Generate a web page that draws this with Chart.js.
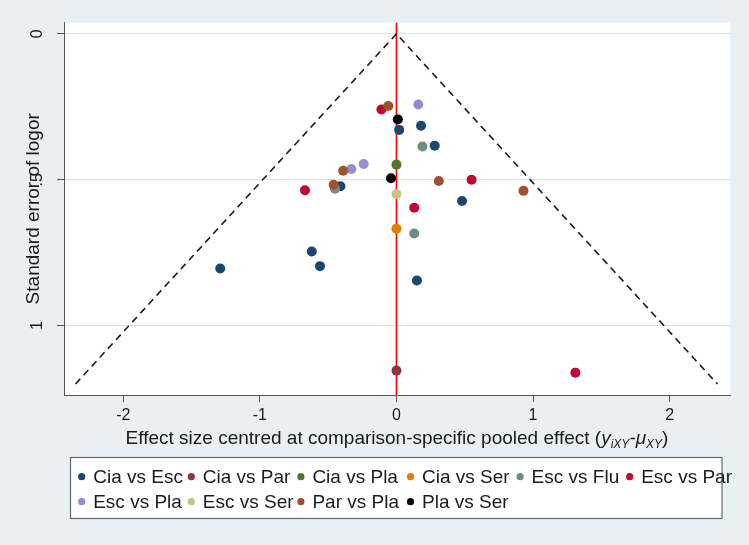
<!DOCTYPE html>
<html>
<head>
<meta charset="utf-8">
<script src="https://cdn.jsdelivr.net/npm/chart.js@4.4.1/dist/chart.umd.min.js"></script>
<style>
  html, body { margin: 0; padding: 0; background: #e9f0f3; }
  #wrap { width: 749px; height: 545px; }
</style>
</head>
<body>
<div id="wrap"><canvas id="funnel" width="749" height="545"></canvas></div>
<script>
// Comparison-adjusted funnel plot (centred effect size vs standard error of log OR)

const comparisons = ['Cia vs Esc', 'Cia vs Par', 'Cia vs Pla', 'Cia vs Ser', 'Esc vs Flu',
                     'Esc vs Par', 'Esc vs Pla', 'Esc vs Ser', 'Par vs Pla', 'Pla vs Ser'];
const colors = ['#1a476f', '#90353b', '#55752f', '#e37e00', '#6e8e84',
                '#c10534', '#938dd2', '#cac27e', '#a0522d', '#000000'];

// x = centred effect size, se = standard error, one pair per comparison
const ciaEscX  = [-1.29, -0.62, -0.56, -0.41, 0.02, 0.18, 0.28, 0.48, 0.15];
const ciaEscSe = [0.804, 0.746, 0.796, 0.522, 0.329, 0.315, 0.383, 0.573, 0.845];
const ciaParX  = [0.00];
const ciaParSe = [1.154];
const ciaPlaX  = [0.00];
const ciaPlaSe = [0.448];
const ciaSerX  = [0.00];
const ciaSerSe = [0.668];
const escFluX  = [0.19, 0.13, -0.45];
const escFluSe = [0.386, 0.684, 0.531];
const escParX  = [-0.11, 0.55, 0.13, -0.67, 1.31];
const escParSe = [0.259, 0.500, 0.596, 0.536, 1.161];
const escPlaX  = [0.16, -0.24, -0.33];
const escPlaSe = [0.242, 0.446, 0.463];
const escSerX  = [0.00];
const escSerSe = [0.549];
const parPlaX  = [-0.06, -0.39, 0.31, 0.93, -0.46];
const parPlaSe = [0.247, 0.469, 0.504, 0.538, 0.517];
const plaSerX  = [0.01, -0.04];
const plaSerSe = [0.293, 0.495];

const seriesX  = [ciaEscX, ciaParX, ciaPlaX, ciaSerX, escFluX, escParX, escPlaX, escSerX, parPlaX, plaSerX];
const seriesSe = [ciaEscSe, ciaParSe, ciaPlaSe, ciaSerSe, escFluSe, escParSe, escPlaSe, escSerSe, parPlaSe, plaSerSe];

// pseudo 95% limits and the zero line
const funnelX  = [-2.35, 0, 2.35];
const funnelSe = [1.2, 0, 1.2];
const zeroX    = [0, 0];
const zeroSe   = [-0.04, 1.24];

const xTicks = [-2, -1, 0, 1, 2];
const yTicks = [0, 0.5, 1];
const yTickLabels = ['0', '.5', '1'];

const FONT = "'Liberation Sans', Arial, sans-serif";

const points = (xs, ys) => xs.map((x, i) => ({ x: x, y: ys[i] }));

const datasets = comparisons.map((name, i) => ({
    label: name,
    data: points(seriesX[i], seriesSe[i]),
    backgroundColor: colors[i],
    borderWidth: 0,
    pointRadius: 5,
    pointHoverRadius: 5,
    order: comparisons.length - i,   // later series drawn on top, like Stata
    isSeries: true
}));

datasets.push({
    label: 'funnel',
    data: points(funnelX, funnelSe),
    showLine: true,
    borderColor: '#1a1a1a',
    borderWidth: 1.6,
    borderDash: [7, 5],
    pointRadius: 0,
    order: 30
});
datasets.push({
    label: 'zero',
    data: points(zeroX, zeroSe),
    showLine: true,
    borderColor: '#ff0000',
    borderWidth: 1.6,
    pointRadius: 0,
    order: 30
});

const backdrop = {
    id: 'backdrop',
    beforeDraw(chart) {
        const { ctx, chartArea: a } = chart;
        ctx.save();
        ctx.fillStyle = '#e9f0f3';
        ctx.fillRect(0, 0, chart.width, chart.height);
        ctx.fillStyle = '#ffffff';
        ctx.fillRect(a.left, a.top, a.right - a.left, a.bottom - a.top);
        ctx.restore();
    }
};

// x title with subscripts, and the Stata-style boxed legend
const extras = {
    id: 'extras',
    afterDraw(chart) {
        const { ctx, chartArea: a } = chart;
        ctx.save();

        const big = 19, small = 12;
        const parts = [
            { t: 'Effect size centred at comparison-specific pooled effect (', f: `${big}px ${FONT}`, dy: 0 },
            { t: 'y', f: `italic ${big}px ${FONT}`, dy: 0 },
            { t: 'iXY', f: `italic ${small}px ${FONT}`, dy: 4 },
            { t: '-\u03bc', f: `italic ${big}px ${FONT}`, dy: 0 },
            { t: 'XY', f: `italic ${small}px ${FONT}`, dy: 4 },
            { t: ')', f: `${big}px ${FONT}`, dy: 0 }
        ];
        let total = 0;
        parts.forEach(p => { ctx.font = p.f; p.w = ctx.measureText(p.t).width; total += p.w; });
        let x = (a.left + a.right) / 2 - total / 2;
        const base = 444;
        ctx.fillStyle = '#1a1a1a';
        ctx.textBaseline = 'alphabetic';
        parts.forEach(p => { ctx.font = p.f; ctx.fillText(p.t, x, base + p.dy); x += p.w; });

        // legend box
        ctx.fillStyle = '#ffffff';
        ctx.fillRect(70.5, 457.5, 651.5, 61);
        ctx.strokeStyle = '#666666';
        ctx.lineWidth = 1.2;
        ctx.strokeRect(70.5, 457.5, 651.5, 61);

        ctx.font = `${big}px ${FONT}`;
        ctx.textBaseline = 'middle';
        chart.data.datasets.filter(d => d.isSeries).forEach((d, i) => {
            const col = i % 6, row = Math.floor(i / 6);
            const cx = 81.7 + col * 109.6, cy = 476.7 + row * 25;
            ctx.fillStyle = d.backgroundColor;
            ctx.beginPath();
            ctx.arc(cx, cy, 3.6, 0, Math.PI * 2);
            ctx.fill();
            ctx.fillStyle = '#1a1a1a';
            ctx.fillText(d.label, cx + 11.5, cy + 1);
        });
        ctx.restore();
    }
};

new Chart(document.getElementById('funnel'), {
    type: 'scatter',
    data: { datasets: datasets },
    options: {
        responsive: false,
        animation: false,
        layout: { padding: { top: 19, right: 19, left: 0, bottom: 0 } },
        plugins: {
            legend: { display: false },
            tooltip: { enabled: false }
        },
        scales: {
            x: {
                type: 'linear',
                min: -2.434,
                max: 2.442,
                afterBuildTicks: s => { s.ticks = xTicks.map(v => ({ value: v })); },
                afterFit: s => { s.height = 150; },
                grid: { drawOnChartArea: false, tickLength: 7, tickColor: '#555' },
                border: { color: '#555', width: 1 },
                ticks: {
                    color: '#1a1a1a',
                    font: { family: FONT, size: 16 },
                    padding: 4,
                    callback: v => String(v)
                }
            },
            y: {
                type: 'linear',
                reverse: true,
                min: -0.0387,
                max: 1.2376,
                afterBuildTicks: s => { s.ticks = yTicks.map(v => ({ value: v })); },
                afterFit: s => { s.width = 64; },
                grid: { color: '#d8e5eb', lineWidth: 1, tickLength: 7, tickColor: '#555' },
                border: { color: '#555', width: 1 },
                ticks: {
                    color: '#1a1a1a',
                    font: { family: FONT, size: 16 },
                    minRotation: 90,
                    maxRotation: 90,
                    crossAlign: 'center',
                    padding: 13,
                    callback: (v, i) => yTickLabels[i]
                },
                title: {
                    display: true,
                    text: 'Standard error of logor',
                    color: '#1a1a1a',
                    font: { family: FONT, size: 19 },
                    padding: { top: 22, bottom: 0 }
                }
            }
        }
    },
    plugins: [backdrop, extras]
});
</script>
</body>
</html>
